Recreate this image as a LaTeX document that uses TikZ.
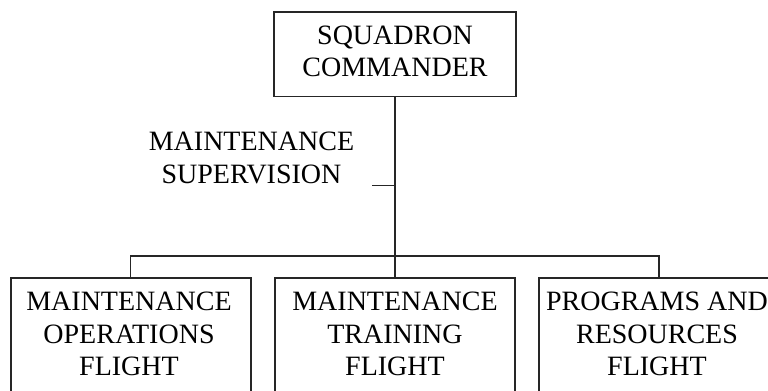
\documentclass[tikz,border=0pt]{standalone}
\usepackage{fontspec}
\setmainfont{Liberation Serif}
\begin{document}
\begin{tikzpicture}[x=0.75pt,y=-0.75pt,
  box/.style={draw=black!85, line width=1.2pt, minimum width=240*0.75pt, inner sep=0pt, outer sep=0pt},
  lbl/.style={align=center, inner sep=0pt, font=\fontsize{21}{24.4}\selectfont},
  conn/.style={draw=black!85, line width=1.1pt}]
\useasboundingbox (0,0) rectangle (768,391);
\clip (0,0) rectangle (768,391);
% top box
\node[box, minimum width=242*0.75pt, minimum height=84.7*0.75pt] (top) at (395,54.35) {};
\node[lbl] (toptext) at (395,51.3) {SQUADRON\\COMMANDER};
% bottom boxes
\node[box, minimum height=122*0.75pt] (b1) at (130.7,339) {};
\node[box, minimum height=122*0.75pt] (b2) at (395,339) {};
\node[box, minimum height=122*0.75pt] (b3) at (659,339) {};
\node[lbl] (t1) at (129,334.2) {MAINTENANCE\\OPERATIONS\\FLIGHT};
\node[lbl] (t2) at (395,334.2) {MAINTENANCE\\TRAINING\\FLIGHT};
\node[lbl] (t3) at (657,334.2) {PROGRAMS AND\\RESOURCES\\FLIGHT};
% supervision label
\node[lbl] (sup) at (251.5,158) {MAINTENANCE\\SUPERVISION};
% connectors
\coordinate (bus) at (395,256);
\coordinate (tickL) at (372,185.3);
\draw[conn] (top.south) -- (b2.north);
\draw[conn] (b1.north) |- (bus) -| (b3.north);
\draw[conn] (tickL) -- (tickL -| top.south);
\end{tikzpicture}
\end{document}
